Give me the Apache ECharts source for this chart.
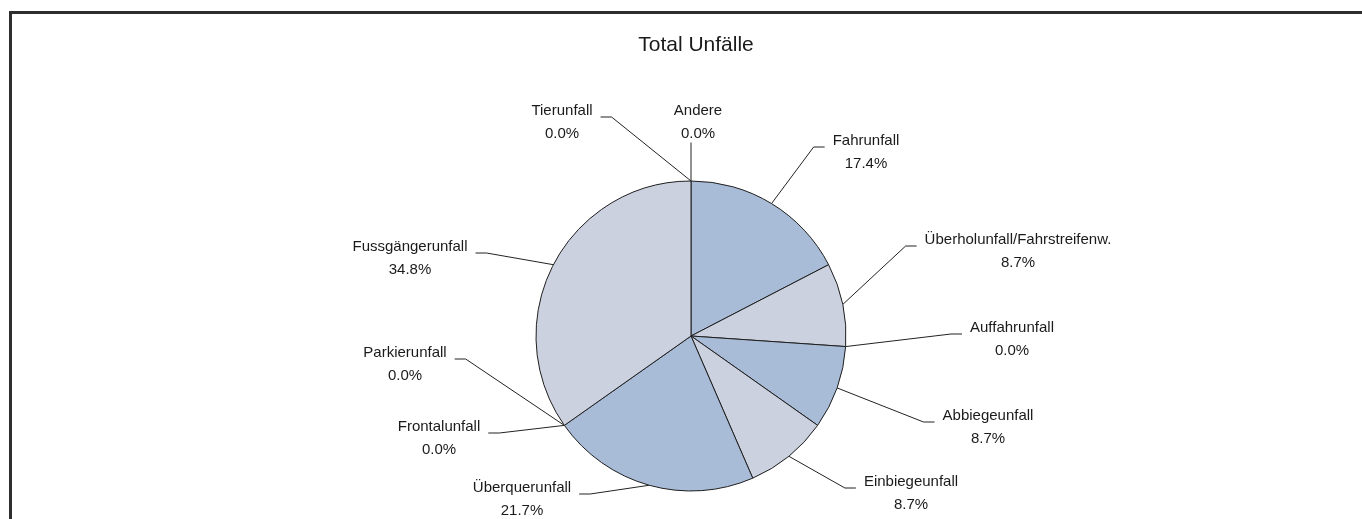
<!DOCTYPE html>
<html>
<head>
<meta charset="utf-8">
<script src="https://cdn.jsdelivr.net/npm/echarts@6/dist/echarts.min.js"></script>
<style>
  html, body { margin: 0; padding: 0; background: #fff; }
  #chart { width: 1362px; height: 519px; }
</style>
</head>
<body>
<div id="chart"></div>
<script>
// Unfalltypen, im Uhrzeigersinn ab 12 Uhr
const categories = [
  'Fahrunfall',
  'Überholunfall/Fahrstreifenw.',
  'Auffahrunfall',
  'Abbiegeunfall',
  'Einbiegeunfall',
  'Überquerunfall',
  'Frontalunfall',
  'Parkierunfall',
  'Fussgängerunfall',
  'Tierunfall',
  'Andere'
]
const counts = [4, 2, 0, 2, 2, 5, 0, 0, 8, 0, 0]
const sliceColors = ['#a9bcd7', '#cbd1df', '#a9bcd7', '#a9bcd7', '#cbd1df', '#a9bcd7', '#cbd1df', '#a9bcd7', '#cbd1df', '#a9bcd7', '#cbd1df']

// label placement: text centre x, centre y of first text line
const labelPos = [
  [866, 141], [1018, 240], [1012, 328], [988, 416], [911, 482], [522, 488],
  [439, 427], [405, 353], [410, 247], [562, 111], [698, 111]
]

const total = counts.reduce((a, b) => a + b, 0)
const FONT = '"Liberation Sans", Arial, sans-serif'
const LINE_H = 23

const myChart = echarts.init(document.getElementById('chart'))

const option = {
  animation: false,
  title: {
    text: 'Total Unfälle',
    left: 691,
    top: 30,
    textAlign: 'center',
    textStyle: { fontFamily: FONT, fontSize: 21, fontWeight: 'normal', color: '#1a1a1a' }
  },
  graphic: [
    { type: 'line', shape: { x1: 10.5, y1: 12.5, x2: 1362, y2: 12.5 }, style: { stroke: '#2e2e2e', lineWidth: 3 } },
    { type: 'line', shape: { x1: 10.5, y1: 11, x2: 10.5, y2: 519 }, style: { stroke: '#2e2e2e', lineWidth: 3 } }
  ],
  series: [
    {
      type: 'pie',
      center: [691, 336],
      radius: 155,
      startAngle: 90,
      clockwise: true,
      avoidLabelOverlap: false,
      minShowLabelAngle: 0,
      emphasis: { disabled: true },
      data: categories.map((name, i) => ({
        name: name,
        value: counts[i],
        // empty slices get no outline, so no doubled radial strokes
        itemStyle: { color: sliceColors[i], borderWidth: counts[i] ? 1 : 0 }
      })),
      itemStyle: { borderColor: '#1e1e1e', borderWidth: 1 },
      label: {
        show: true,
        position: 'outside',
        formatter: p => p.name + '\n' + (p.value / total * 100).toFixed(1) + '%',
        fontFamily: FONT,
        fontSize: 15,
        lineHeight: LINE_H,
        color: '#1a1a1a',
        align: 'center'
      },
      labelLine: {
        show: true,
        length: 10,
        length2: 10,
        lineStyle: { color: '#222', width: 1 }
      },
      labelLayout: function (params) {
        const pos = labelPos[params.dataIndex]
        const w = params.labelRect.width
        const top = pos[1] - LINE_H / 2
        const res = { x: pos[0], y: top, align: 'center', verticalAlign: 'top' }
        const pts = params.labelLinePoints
        if (pts && pts.length) {
          const edge = pts[0]
          const baseY = pos[1] + 6
          if (Math.abs(pos[0] - edge[0]) < 20) {
            // label straight above the slice edge
            const yEnd = top + 2 * LINE_H - 3
            res.labelLinePoints = [edge, [edge[0], yEnd], [edge[0], yEnd]]
          } else if (pos[0] > edge[0]) {
            const l = pos[0] - w / 2
            res.labelLinePoints = [edge, [l - 19, baseY], [l - 8, baseY]]
          } else {
            const r = pos[0] + w / 2
            res.labelLinePoints = [edge, [r + 19, baseY], [r + 8, baseY]]
          }
        }
        return res
      }
    }
  ]
}

myChart.setOption(option)
</script>
</body>
</html>
